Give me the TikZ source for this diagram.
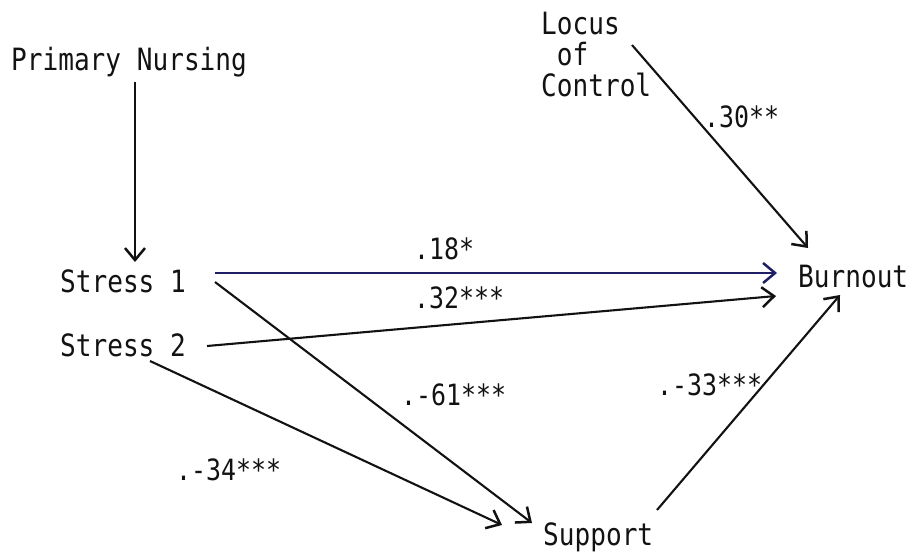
\documentclass[tikz,border=0pt]{standalone}
\usepackage{fontspec}
\usetikzlibrary{arrows.meta}
\newfontfamily\twfont[FakeStretch=0.85]{DejaVu Sans Mono}
\definecolor{ink}{rgb}{0.07,0.07,0.07}
\definecolor{navy}{rgb}{0.12,0.12,0.40}
\tikzset{
  var/.style={inner sep=0pt, anchor=base west, text=ink,
    font=\twfont\fontsize{30.7pt}{31pt}\selectfont},
  coef/.style={inner sep=0pt, anchor=base west, text=ink,
    font=\twfont\fontsize{29.3pt}{29pt}\selectfont},
  arr/.style={draw=ink, line width=2.1pt,
    -{Straight Barb[length=12pt,width=20pt,line width=2.5pt]}}
}
\begin{document}
\begin{tikzpicture}[x=1pt,y=-1pt]
\useasboundingbox (0,0) rectangle (917,554);
% variables
\node[var] (pn) at (11,70) {Primary Nursing};
\node[var] (s1) at (60,292) {Stress 1};
\node[var] (s2) at (60,356) {Stress 2};
\node[var, anchor=north west, align=left] (loc) at (541,12) {Locus\\\hphantom{L}of\\Control};
\node[var] (bo) at (798,287) {Burnout};
\node[var] (su) at (543,545) {Support};
% coefficients
\node[coef] (c18) at (414,259) {.18*};
\node[coef] (c32) at (414,308) {.32***};
\node[coef] (c61) at (401,405) {.-61***};
\node[coef] (c34) at (176,480) {.-34***};
\node[coef] (c33) at (657,395) {.-33***};
\node[coef] (c30) at (704,127) {.30**};
% paths
\draw[arr] ([shift={(124,12)}]pn.base west) -- ([shift={(75,-30)}]s1.base west);
\draw[arr, draw=navy] ([shift={(155,-19)}]s1.base west) -- ([shift={(-21,-14)}]bo.base west);
\draw[arr] ([shift={(147,-10)}]s2.base west) -- ([shift={(-22,9)}]bo.base west);
\draw[arr] ([shift={(155,-10)}]s1.base west) -- ([shift={(-11,-22)}]su.base west);
\draw[arr] ([shift={(90,5)}]s2.base west) -- ([shift={(-41,-20)}]su.base west);
\draw[arr] ([shift={(114,-35)}]su.base west) -- ([shift={(42,8)}]bo.base west);
\draw[arr] ([shift={(91,33)}]loc.north west) -- ([shift={(10,-39)}]bo.base west);
\end{tikzpicture}
\end{document}
